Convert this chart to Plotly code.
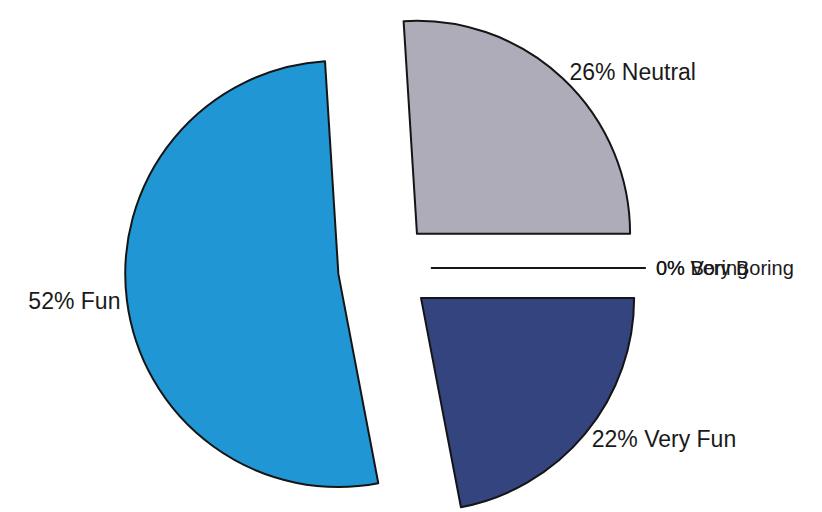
import plotly.graph_objects as go

labels = ["Neutral", "Very Boring", "Boring", "Very Fun", "Fun"]
values = [26, 0, 0, 22, 52]
colors = ["#afacba", "#222222", "#222222", "#34447e", "#2097d4"]
pulls = [0.22, 0.22, 0.22, 0.22, 0.22]
label_templates = [
    "%{percent:.0%} %{label}",
    "\u00a0%{percent:.0%} %{label}",
    "\u00a0%{percent:.0%} %{label}",
    "%{percent:.0%} %{label}",
    "%{percent:.0%} %{label}",
]
label_sizes = [23, 20, 20, 23, 23]

font = dict(family="Liberation Sans, Arial, sans-serif", size=label_sizes, color="#1a1a1a")
common = dict(
    labels=labels,
    values=values,
    sort=False,
    direction="clockwise",
    rotation=-3.6,
    pull=pulls,
    texttemplate=label_templates,
    automargin=False,
    outsidetextfont=font,
    textfont=font,
    showlegend=False,
    domain=dict(x=[0, 0.917], y=[0, 1]),
    hoverinfo="label+percent",
)

# main pie: slices plus all labels except the overlapping "Boring" one
main = go.Pie(
    marker=dict(colors=colors, line=dict(color="#151515", width=2)),
    textposition=["outside", "outside", "none", "outside", "outside"],
    **common,
)
# transparent copy that only carries the "Boring" label,
# so it overlaps "Very Boring" as in the original instead of being moved
overlay = go.Pie(
    marker=dict(colors=["rgba(0,0,0,0)"] * len(labels), line=dict(width=0)),
    textposition=["none", "none", "outside", "none", "none"],
    **common,
)

fig = go.Figure([main, overlay])

fig.update_layout(
    width=822, height=520,
    margin=dict(l=0, r=0, t=0, b=0),
    paper_bgcolor="white",
    showlegend=False,
)

fig.write_html("out.html")
